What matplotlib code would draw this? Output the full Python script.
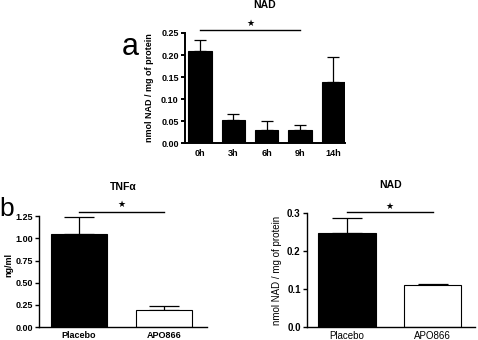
import matplotlib
matplotlib.use('Agg')
import matplotlib.pyplot as plt

plt.rcParams['font.family'] = ['Liberation Sans', 'DejaVu Sans']

# panel a: NAD over time
horas = ['0h', '3h', '6h', '9h', '14h']
nad_tiempo = [0.208, 0.053, 0.029, 0.030, 0.138]
nad_tiempo_err = [0.027, 0.012, 0.021, 0.012, 0.057]

# panel b: placebo vs APO866
grupos = ['Placebo', 'APO866']
tnf = [1.05, 0.19]
tnf_err = [0.19, 0.045]
nad_grupo = [0.249, 0.110]
nad_grupo_err = [0.039, 0.003]
colores = ['black', 'white']


def estilo(ax, lw=1.0, fs=6.5):
    ax.spines['top'].set_visible(False)
    ax.spines['right'].set_visible(False)
    for s in ['bottom', 'left']:
        ax.spines[s].set_linewidth(lw)
    ax.tick_params(axis='x', length=0, labelsize=fs, pad=4)
    ax.tick_params(axis='y', length=3, width=lw, labelsize=fs, pad=1.5)
    for t in ax.get_xticklabels() + ax.get_yticklabels():
        t.set_fontweight('bold')


def barras(ax, vals, errs, cols, width, cap):
    x = list(range(len(vals)))
    ax.bar(x, vals, width=width, color=cols, edgecolor='black', linewidth=0.8, zorder=2)
    ax.errorbar(x, vals, yerr=[[0] * len(errs), errs], fmt='none', ecolor='black',
                elinewidth=0.9, capsize=cap, capthick=0.9, zorder=1)


def significancia(ax, x0, x1, y, ys):
    ax.plot([x0, x1], [y, y], color='black', lw=1.0, clip_on=False)
    ax.text((x0 + x1) / 2, ys, '\u2605', ha='center', va='center', fontsize=6.5,
            family='DejaVu Sans', clip_on=False)


fig = plt.figure(figsize=(4.78, 3.40), dpi=100)

# panel a
ax1 = fig.add_axes([0.387, 0.579, 0.335, 0.324])
barras(ax1, nad_tiempo, nad_tiempo_err, 'black', 0.7, 4.5)
ax1.set_xlim(-0.45, 4.35)
ax1.set_ylim(0, 0.25)
ax1.set_yticks([0, 0.05, 0.10, 0.15, 0.20, 0.25])
ax1.set_yticklabels(['0.00', '0.05', '0.10', '0.15', '0.20', '0.25'])
ax1.set_xticks(range(len(horas)))
ax1.set_xticklabels(horas)
estilo(ax1, lw=1.4)
ax1.set_ylabel('nmol NAD / mg of protein', fontsize=6.5, fontweight='bold')
ax1.yaxis.set_label_coords(-0.194, 0.5)
ax1.set_title('NAD', fontsize=7.5, fontweight='bold', pad=18)
significancia(ax1, 0, 3, 0.257, 0.272)
fig.text(130 / 478, 1 - 47 / 340, 'a', fontsize=22, ha='center', va='center')

# panel b izquierda: TNFa
ax2 = fig.add_axes([0.0816, 0.038, 0.351, 0.326])
barras(ax2, tnf, tnf_err, colores, 0.66, 11)
ax2.set_xlim(-0.47, 1.506)
ax2.set_ylim(0, 1.25)
ax2.set_yticks([0, 0.25, 0.5, 0.75, 1.0, 1.25])
ax2.set_yticklabels(['0.00', '0.25', '0.50', '0.75', '1.00', '1.25'])
ax2.set_xticks(range(len(grupos)))
ax2.set_xticklabels(grupos)
estilo(ax2)
ax2.tick_params(axis='x', pad=3)
ax2.set_ylabel('ng/ml', fontsize=6.5, fontweight='bold')
ax2.yaxis.set_label_coords(-0.155, 0.56)
ax2.set_title('TNF\u03b1', fontsize=7.5, fontweight='bold', pad=19)
significancia(ax2, 0, 1, 1.295, 1.385)
fig.text(7 / 478, 1 - 209 / 340, 'b', fontsize=19, ha='center', va='center')

# panel b derecha: NAD
ax3 = fig.add_axes([0.642, 0.038, 0.351, 0.335])
barras(ax3, nad_grupo, nad_grupo_err, colores, 0.67, 11)
ax3.set_xlim(-0.465, 1.49)
ax3.set_ylim(0, 0.3)
ax3.set_yticks([0, 0.1, 0.2, 0.3])
ax3.set_yticklabels(['0.0', '0.1', '0.2', '0.3'])
ax3.set_xticks(range(len(grupos)))
ax3.set_xticklabels(grupos)
estilo(ax3, fs=7)
ax3.tick_params(axis='x', pad=3)
for t in ax3.get_xticklabels():
    t.set_fontweight('normal')
ax3.set_ylabel('nmol NAD / mg of protein', fontsize=7)
ax3.yaxis.set_label_coords(-0.149, 0.5)
ax3.set_title('NAD', fontsize=7.5, fontweight='bold', pad=18)
significancia(ax3, 0, 1, 0.303, 0.318)

fig.savefig('out.png', dpi=100)
